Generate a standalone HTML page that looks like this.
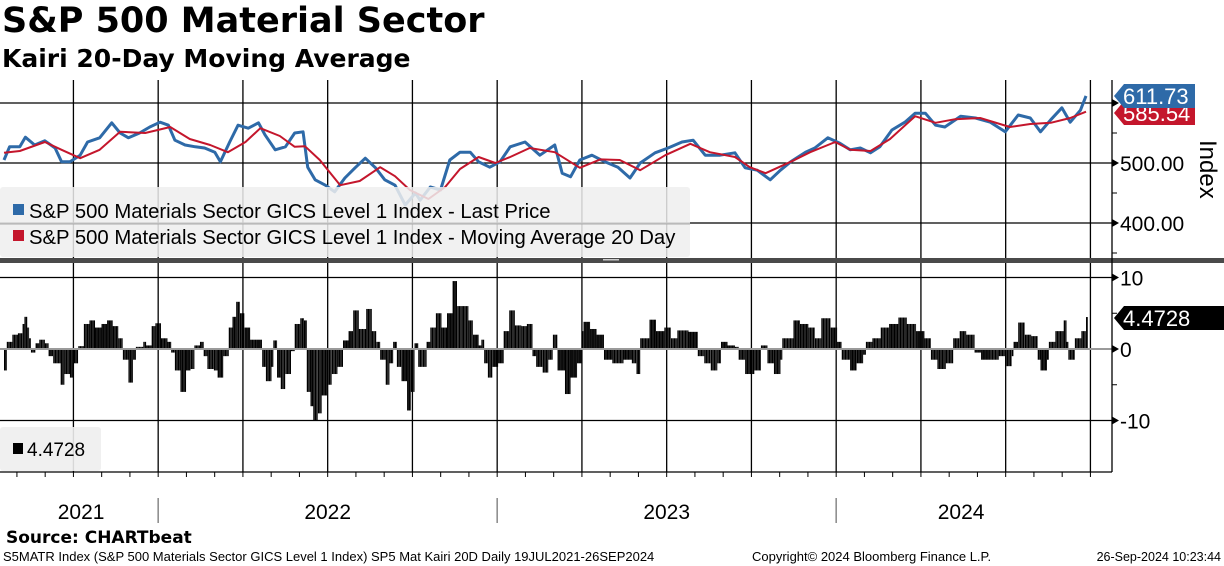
<!DOCTYPE html>
<html><head><meta charset="utf-8"><style>
body{margin:0;background:#fff;width:1224px;height:566px;overflow:hidden;font-family:"Liberation Sans",sans-serif}
.t{position:absolute;left:2px;font-family:"DejaVu Sans",sans-serif;font-weight:bold;color:#000;white-space:nowrap}
</style></head><body>
<div class="t" style="top:1px;font-size:35px">S&amp;P 500 Material Sector</div>
<div class="t" style="top:44px;font-size:25px">Kairi 20-Day Moving Average</div>
<svg id="c" width="1224" height="566" style="position:absolute;left:0;top:0" xmlns="http://www.w3.org/2000/svg"></svg>
<script>
const priceData=[[0,505],[6,527],[17,527],[23,543],[33,530],[44,537],[55,525],[62,502],[71,502],[82,513],[90,535],[103,542],[116,567],[125,550],[134,542],[146,550],[157,560],[168,568],[177,563],[184,538],[195,530],[206,527],[216,525],[227,518],[233,502],[243,535],[252,563],[263,558],[274,567],[281,547],[292,522],[303,527],[313,550],[322,552],[327,493],[335,472],[346,463],[356,452],[367,475],[378,492],[389,508],[400,492],[410,472],[421,463],[432,430],[443,450],[448,438],[459,460],[470,455],[480,505],[491,518],[502,518],[511,502],[523,493],[534,502],[545,527],[561,535],[577,513],[593,530],[601,483],[610,477],[620,505],[633,513],[647,502],[661,493],[674,475],[685,500],[701,517],[715,525],[730,535],[742,538],[755,513],[771,513],[787,517],[798,492],[811,488],[825,472],[836,488],[847,502],[863,518],[873,525],[887,542],[900,533],[911,522],[922,525],[933,517],[943,527],[956,555],[970,568],[981,583],[992,583],[1003,563],[1013,560],[1030,578],[1046,575],[1062,568],[1078,552],[1092,580],[1105,575],[1116,552],[1127,572],[1139,592],[1148,568],[1159,588],[1165,611.73]];
const maData=[[0,517],[17,520],[44,535],[62,522],[82,508],[103,522],[125,552],[152,550],[179,560],[200,540],[222,530],[241,518],[260,535],[276,558],[297,545],[313,527],[324,528],[340,505],[362,463],[383,470],[405,493],[421,478],[437,455],[457,440],[475,460],[491,490],[511,510],[529,500],[545,510],[566,525],[593,518],[620,492],[642,506],[663,505],[685,488],[712,513],[739,532],[760,518],[787,510],[803,493],[820,483],[847,502],[868,518],[895,535],[911,522],[933,520],[954,540],[981,578],[1003,567],[1024,573],[1051,575],[1083,560],[1105,565],[1127,567],[1148,575],[1165,585.54]];
const kairiData=[[0,-3],[3,1],[9,2],[15,2.2],[20,3.5],[22,4.5],[25,3],[27,1.5],[29,-0.5],[34,0.8],[38,1.3],[44,0.8],[48,-1],[53,-2],[61,-5],[65,-3.5],[71,-4],[75,-2],[80,0.4],[86,3.5],[92,4],[98,3],[105,3.5],[111,4],[117,3.2],[123,1.5],[128,-1.5],[134,-4.7],[139,-1.5],[142,0.3],[150,1],[153,0.5],[159,3.2],[163,3.6],[169,1.5],[176,1],[180,-0.5],[184,-3],[190,-6],[196,-3],[201,-2.8],[205,0.5],[211,1],[215,-1],[219,-2.8],[226,-3],[230,-4],[236,-1],[242,3],[246,4.5],[250,6.6],[254,5],[259,3],[265,1.3],[273,1.3],[278,-2.5],[282,-4.5],[288,-2.5],[290,1.2],[294,-4],[298,-5.6],[303,-3.5],[309,-0.3],[313,3.5],[319,4.3],[323,4],[326,-6],[330,-8],[333,-10],[338,-9],[342,-6.5],[348,-5],[353,-3.5],[359,-2.5],[365,1.2],[371,2.5],[376,5.4],[382,2.8],[390,5.6],[396,2.5],[401,1],[405,-1.5],[411,-5],[415,-2],[419,1],[423,-2.5],[428,-4.5],[434,-8.6],[438,-6],[442,0.8],[446,-2.5],[451,-2.5],[455,1],[459,3],[465,5],[471,3],[477,5],[483,9.5],[488,6],[494,6],[500,4],[505,2],[511,0.5],[514,1.3],[517,-2],[521,-4],[526,-2.5],[532,-2],[538,2.5],[544,5.4],[550,3.3],[557,3.2],[563,3.5],[569,-1],[573,-2.5],[580,-3.3],[586,-1.5],[591,2],[596,-3],[604,-6.3],[610,-4],[617,-2],[622,2.5],[624,3.8],[631,2.8],[638,2],[646,-1.5],[655,-2],[667,-1.5],[676,-2],[681,-3.5],[685,1.5],[695,4.1],[702,2.5],[711,3],[718,1.5],[725,2.6],[737,2.4],[747,-1],[754,-2],[761,-3],[768,-2],[772,1],[779,0.5],[787,0.3],[791,-1.5],[798,-3.5],[808,-3],[815,0.5],[822,-2],[829,-3.5],[836,-1.5],[838,1.5],[850,4],[857,3.5],[866,3],[873,1.5],[880,4.3],[890,3],[897,1],[902,-1.5],[911,-3],[918,-2],[925,-0.8],[928,1],[935,1.5],[944,3],[953,3.5],[963,4.4],[972,3.5],[982,2.5],[991,1.5],[998,-1.5],[1005,-2.8],[1014,-2],[1022,1.5],[1029,2.5],[1036,2],[1045,-0.5],[1052,-1.5],[1062,-1.5],[1071,-1],[1078,-2.4],[1085,-1],[1087,1],[1092,3.7],[1099,2],[1106,1.8],[1113,-1.5],[1116,-3],[1123,-1.5],[1125,1],[1132,2.5],[1141,4],[1144,1],[1146,-1.5],[1153,1.5],[1160,2.5],[1165,4.47]];
const priceTicks=[400,500,600];
const priceTickLabels=["400.00","500.00",""];
const kairiTicks=[-10,0,10];
const kairiTickLabels=["-10","0","10"];
const years=["2021","2022","2023","2024"];
const yearStartDays=[-199,166,531,896];
const lastPrice="611.73", lastMA="585.54", lastKairi="4.4728";

const NS="http://www.w3.org/2000/svg";
const svg=document.getElementById('c');
function el(tag,attrs,parent){const e=document.createElementNS(NS,tag);for(const k in attrs)e.setAttribute(k,attrs[k]);(parent||svg).appendChild(e);return e;}
const X=d=>4+d*339/365;
const YP=v=>103+(600-v)*0.6;
const YK=v=>349-v*7.15;
const R=1112;

const defs=el('defs',{});
const cp1=el('clipPath',{id:'cp1'},defs);el('rect',{x:0,y:80,width:R,height:178},cp1);
const cp2=el('clipPath',{id:'cp2'},defs);el('rect',{x:0,y:263,width:R,height:209},cp2);

const gridG=el('g',{});


for(let q=-1;q<12;q++){const d=166+q*365/4;const x=X(d);if(x<=0||x>=R)continue;
 el('line',{x1:x,y1:80,x2:x,y2:258,stroke:'#000','stroke-width':1.3},gridG);
 el('line',{x1:x,y1:263,x2:x,y2:472,stroke:'#000','stroke-width':1.3},gridG);}
priceTicks.forEach((v,i)=>{const y=YP(v);
 const g=el('line',{x1:0,y1:y,x2:R,y2:y,stroke:'#000','stroke-width':1.3});
 
 
 el('path',{d:`M${R} ${y-4}L${R+7} ${y}L${R} ${y+4}Z`,fill:'#000'});
 if(priceTickLabels[i]){const t=el('text',{x:R+8,y:y+8,'font-size':21,fill:'#000'});t.textContent=priceTickLabels[i];
 
 }
});
[550,450,350].forEach(v=>el('line',{x1:R,y1:YP(v),x2:R+5,y2:YP(v),stroke:'#000'}));
kairiTicks.forEach((v,i)=>{const y=YK(v);
 if(v!==0)el('line',{x1:0,y1:y,x2:R,y2:y,stroke:'#000','stroke-width':1.3});
 el('path',{d:`M${R} ${y-4}L${R+7} ${y}L${R} ${y+4}Z`,fill:'#000'});
 const t=el('text',{x:R+8,y:y+8,'font-size':21,fill:'#000'});t.textContent=kairiTickLabels[i];
 
 
});
[5,-5].forEach(v=>el('line',{x1:R,y1:YK(v),x2:R+5,y2:YK(v),stroke:'#000'}));

const barG=el('g',{'clip-path':'url(#cp2)'});


for(let i=0;i<kairiData.length;i++){
 const [d,v]=kairiData[i];const d2=i<kairiData.length-1?kairiData[i+1][0]:d+2;
 const x1=X(d),x2=X(d2);const y0=YK(0),y1=YK(v);
 for(let x=x1;x<x2-0.2;x+=1.5){
  const r=el('rect',{x:x,y:Math.min(y0,y1),width:Math.min(1.4,x2-x),height:Math.abs(y1-y0),fill:'#000'},barG);
  
  
 }
}
el('line',{x1:0,y1:YK(0),x2:R,y2:YK(0),stroke:'#9a9a9a','stroke-width':2});

function line(data,color,w,name){const p=el('polyline',{points:data.map(([d,v])=>X(d)+','+YP(v)).join(' '),fill:'none',stroke:color,'stroke-width':w,'stroke-linejoin':'round','clip-path':'url(#cp1)'});
 
 }
line(priceData,'#2e6aa8',3,'last-price-line');
line(maData,'#c4162c',2,'moving-average-line');

const lg=el('g',{});


el('rect',{x:0,y:187,width:690,height:70,rx:3,fill:'#eeeeee','fill-opacity':0.85},lg);
el('line',{x1:0,y1:224,x2:690,y2:224,stroke:'#aaa','stroke-width':1},lg);
el('rect',{x:13,y:204,width:11,height:11,fill:'#2e6aa8'},lg);
el('rect',{x:13,y:230,width:11,height:11,fill:'#c4162c'},lg);
let t=el('text',{x:29,y:218,'font-size':20.3,fill:'#000'},lg);t.textContent='S&P 500 Materials Sector GICS Level 1 Index - Last Price';
t=el('text',{x:29,y:244,'font-size':20.3,fill:'#000'},lg);t.textContent='S&P 500 Materials Sector GICS Level 1 Index - Moving Average 20 Day';
const lb=el('g',{});


el('rect',{x:0,y:427,width:101,height:44,rx:3,fill:'#eeeeee','fill-opacity':0.9},lb);
el('rect',{x:13,y:443,width:10,height:11,fill:'#000'},lb);
t=el('text',{x:27,y:456,'font-size':19,fill:'#000'},lb);t.textContent=lastKairi;

el('rect',{x:0,y:258,width:1224,height:5,fill:'#4a4a4a'});
el('rect',{x:603,y:259,width:16,height:1.5,fill:'#ccc'});
el('line',{x1:R,y1:80,x2:R,y2:472,stroke:'#000','stroke-width':1.3});
el('line',{x1:0,y1:472,x2:R,y2:472,stroke:'#000','stroke-width':1.3});
for(let m=-5;m<=33;m++){const d=166+m*365/12;const x=X(d);if(x<0||x>R)continue;el('line',{x1:x,y1:472,x2:x,y2:477,stroke:'#000'});}
years.forEach((y,i)=>{const xs=X(Math.max(0,yearStartDays[i])),xe=X(Math.min(1165,yearStartDays[i]+365));
 if(i>0)el('line',{x1:X(yearStartDays[i]),y1:498,x2:X(yearStartDays[i]),y2:523,stroke:'#888','stroke-width':1.5});
 const tt=el('text',{x:(xs+xe)/2,y:519,'font-size':21,'text-anchor':'middle',fill:'#000'});tt.textContent=y;
 
 });

function tag(y,w,txt,color,name){const g=el('g',{});
 
 
 el('path',{d:`M${R+2} ${y}L${R+12} ${y-12}H${R+2+w}V${y+12}H${R+12}Z`,fill:color},g);
 const tx=el('text',{x:R+11,y:y+8,'font-size':22,fill:'#fff'},g);tx.textContent=txt;}
tag(113,81,lastMA,'#c4162c','ma-value-tag');
tag(96,81,lastPrice,'#2e6aa8','price-value-tag');
tag(318,112,lastKairi,'#000','kairi-value-tag');
t=el('text',{x:1200,y:140,'font-size':24,fill:'#000',transform:'rotate(90 1200 140)'});t.textContent='Index';


t=el('text',{x:6,y:543,'font-size':17,'font-weight':'bold','font-family':'DejaVu Sans',fill:'#000'});t.textContent='Source: CHARTbeat';


t=el('text',{x:3,y:561,'font-size':13,fill:'#000'});t.textContent='S5MATR Index (S&P 500 Materials Sector GICS Level 1 Index) SP5 Mat Kairi 20D  Daily 19JUL2021-26SEP2024';
t=el('text',{x:752,y:561,'font-size':13,fill:'#000'});t.textContent='Copyright© 2024 Bloomberg Finance L.P.';
t=el('text',{x:1221,y:561,'font-size':12.5,'text-anchor':'end',fill:'#000'});t.textContent='26-Sep-2024 10:23:44';
</script>
</body></html>
